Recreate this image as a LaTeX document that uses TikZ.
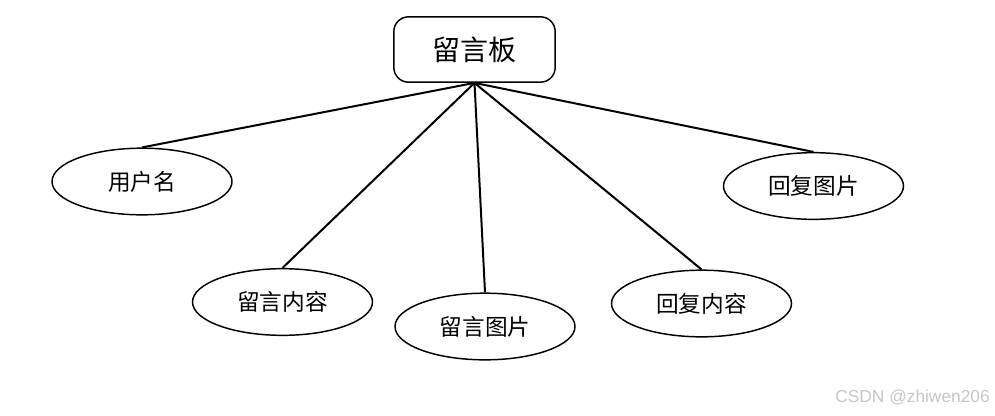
\documentclass[tikz,border=0pt]{standalone}
\usepackage{fontspec}
\newfontfamily\cjk{Noto Sans CJK SC}
\setsansfont{Liberation Sans}
\usetikzlibrary{positioning,shapes.geometric}

\tikzset{
  board/.style={draw, line width=1.1pt, rounded corners=11pt, minimum width=121pt, minimum height=49pt, inner sep=0pt, font=\cjk\fontsize{21}{21}\selectfont},
  attr/.style={draw, ellipse, line width=1.1pt, minimum width=135pt, minimum height=50pt, inner sep=0pt, font=\cjk\fontsize{17}{17}\selectfont},
  link/.style={line width=1.5pt}
}

\begin{document}
\begin{tikzpicture}[x=0.75pt, y=-0.75pt]
    \useasboundingbox (0,0) rectangle (995,415);

    \node[board] (board) at (474.5,49.5) {留言板};

    \node[attr] (user) at (142,181.5) {用户名};
    \node[attr] (content) at (282.5,302) {留言内容};
    \node[attr] (image) at (485,326.5) {留言图片};
    \node[attr] (replytext) at (701.5,303.5) {回复内容};
    \node[attr] (replyimage) at (813.5,186) {回复图片};

    \draw[link] (board.south) -- (user.north);
    \draw[link] (board.south) -- (content.north);
    \draw[link] (board.south) -- (image.north);
    \draw[link] (board.south) -- (replytext.north);
    \draw[link] (board.south) -- (replyimage.north);

    % watermark
    \node[anchor=east, text=gray!45, font=\sffamily\fontsize{13}{14}\selectfont, inner sep=0pt] (mark) at (990,397) {CSDN @zhiwen206};
\end{tikzpicture}
\end{document}
